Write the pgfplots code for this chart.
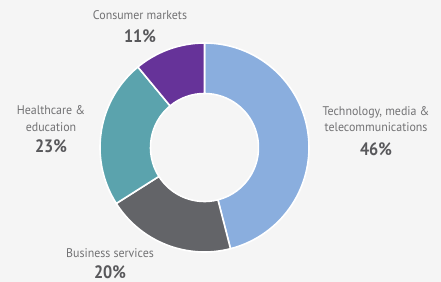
\documentclass[border=0pt]{standalone}
\usepackage{pgfplots}
\pgfplotsset{compat=1.18}
\usepackage{pgfplotstable}
\usepackage{fontspec}
\setmainfont{PT Sans}[FakeStretch=0.95]
\newfontfamily\pctfont{PT Sans}[FakeStretch=0.9]
\definecolor{bg}{HTML}{F5F5F5}
\definecolor{ctech}{HTML}{8AAEDE}
\definecolor{cbus}{HTML}{636468}
\definecolor{cheal}{HTML}{5BA3AD}
\definecolor{ccons}{HTML}{663399}
\definecolor{labtxt}{HTML}{727274}
\definecolor{pcttxt}{HTML}{58585B}
\pgfplotstableread{
idx value
0 46
1 20
2 23
3 11
}\shares
\begin{document}
\begin{tikzpicture}
\fill[bg] (0,0) rectangle (441bp,282bp);
% cumulative angles (clockwise from top)
\pgfplotstablegetelem{0}{value}\of\shares \let\vA\pgfplotsretval
\pgfplotstablegetelem{1}{value}\of\shares \let\vB\pgfplotsretval
\pgfplotstablegetelem{2}{value}\of\shares \let\vC\pgfplotsretval
\pgfplotstablegetelem{3}{value}\of\shares \let\vD\pgfplotsretval
\pgfmathsetmacro\aO{90}
\pgfmathsetmacro\aA{\aO-3.6*\vA}
\pgfmathsetmacro\aB{\aA-3.6*\vB}
\pgfmathsetmacro\aC{\aB-3.6*\vC}
\pgfmathsetmacro\aD{\aC-3.6*\vD}
\def\cx{204.5}\def\cy{134.5}\def\R{104.5}\def\r{54}
\newcommand\donutwedge[3]{%
  \fill[#3, draw=white, line width=1.6bp, line join=miter]
    (axis cs:{\cx+\R*cos(#1)},{\cy+\R*sin(#1)})
    arc[start angle=#1, end angle=#2, radius=\R bp]
    -- (axis cs:{\cx+\r*cos(#2)},{\cy+\r*sin(#2)})
    arc[start angle=#2, end angle=#1, radius=\r bp] -- cycle;}
\begin{axis}[
  at={(0,0)}, anchor=south west,
  width=441bp, height=282bp, scale only axis,
  xmin=0, xmax=441, ymin=0, ymax=282,
  hide axis, clip=false,
]
\donutwedge{\aO}{\aA}{ctech}
\donutwedge{\aA}{\aB}{cbus}
\donutwedge{\aB}{\aC}{cheal}
\donutwedge{\aC}{\aD}{ccons}
\tikzset{lab/.style={anchor=base, inner sep=0pt, text=labtxt, font=\fontsize{12.6}{13}\selectfont},
         pct/.style={anchor=base, inner sep=0pt, text=pcttxt, font=\pctfont\fontsize{18}{18}\selectfont\bfseries}}
\node[lab] at (axis cs:140,262) {Consumer markets};
\node[pct] at (axis cs:140,239) {\vD\%};
\node[lab] at (axis cs:51,167) {Healthcare \&};
\node[lab] at (axis cs:51,150) {education};
\node[pct] at (axis cs:51,129) {\vC\%};
\node[lab] at (axis cs:376,166) {Technology, media \&};
\node[lab] at (axis cs:376,150) {telecommunications};
\node[pct] at (axis cs:376,126) {\vA\%};
\node[lab] at (axis cs:110,25) {Business services};
\node[pct] at (axis cs:110,4) {\vB\%};
\end{axis}
\pgfresetboundingbox
\useasboundingbox (0,0) rectangle (441bp,282bp);
\end{tikzpicture}
\end{document}
